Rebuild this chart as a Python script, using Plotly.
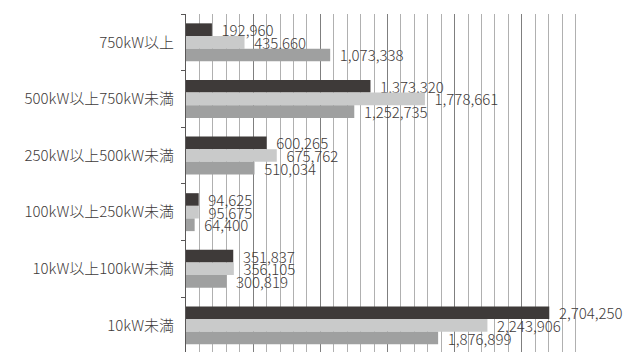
import plotly.graph_objects as go

# 出力区分（上から順）
categories = [
    "750kW以上",
    "500kW以上750kW未満",
    "250kW以上500kW未満",
    "100kW以上250kW未満",
    "10kW以上100kW未満",
    "10kW未満",
]

series_a = [192960, 1373320, 600265, 94625, 351837, 2704250]
series_b = [435660, 1778661, 675762, 95675, 356105, 2243906]
series_c = [1073338, 1252735, 510034, 64400, 300819, 1876899]

series_names = ["系列1", "系列2", "系列3"]
colors = ["#3e3a39", "#c9caca", "#9fa0a0"]

FONT = "Noto Sans CJK JP, Noto Sans, sans-serif"
TEXT_COLOR = "#3e3a39"

fig = go.Figure()
for name, vals, col in zip(series_names, [series_a, series_b, series_c], colors):
    fig.add_trace(go.Bar(
        y=categories,
        x=vals,
        name=name,
        orientation="h",
        marker=dict(color=col, line=dict(width=0)),
        text=vals,
        texttemplate="\u00a0\u00a0%{x:,}",
        textposition="outside",
        constraintext="none",
        cliponaxis=False,
        textfont=dict(family=FONT, size=15, color=TEXT_COLOR, weight=300),
    ))

fig.update_layout(
    width=632,
    height=352,
    margin=dict(l=186, r=43, t=14, b=0),
    paper_bgcolor="white",
    plot_bgcolor="white",
    barmode="group",
    bargap=0.33,
    bargroupgap=0,
    showlegend=False,
    font=dict(family=FONT, size=15, color=TEXT_COLOR),
    xaxis=dict(
        range=[0, 3000000],
        dtick=500000,
        showticklabels=False,
        ticks="",
        showgrid=True,
        gridcolor="#7f7f7f",
        gridwidth=1,
        zeroline=False,
        showline=False,
        minor=dict(dtick=100000, showgrid=True, gridcolor="#b0b0b0", gridwidth=1),
    ),
    yaxis=dict(
        type="category",
        categoryorder="array",
        categoryarray=categories,
        range=[5.47, -0.5],
        tickson="boundaries",
        ticks="outside",
        ticklen=4,
        tickcolor="#595757",
        showline=True,
        linecolor="#595757",
        linewidth=1,
        showgrid=False,
        ticklabelstandoff=8,
        tickfont=dict(family=FONT, size=15, color=TEXT_COLOR, weight=300),
    ),
)

fig.write_html("out.html")
